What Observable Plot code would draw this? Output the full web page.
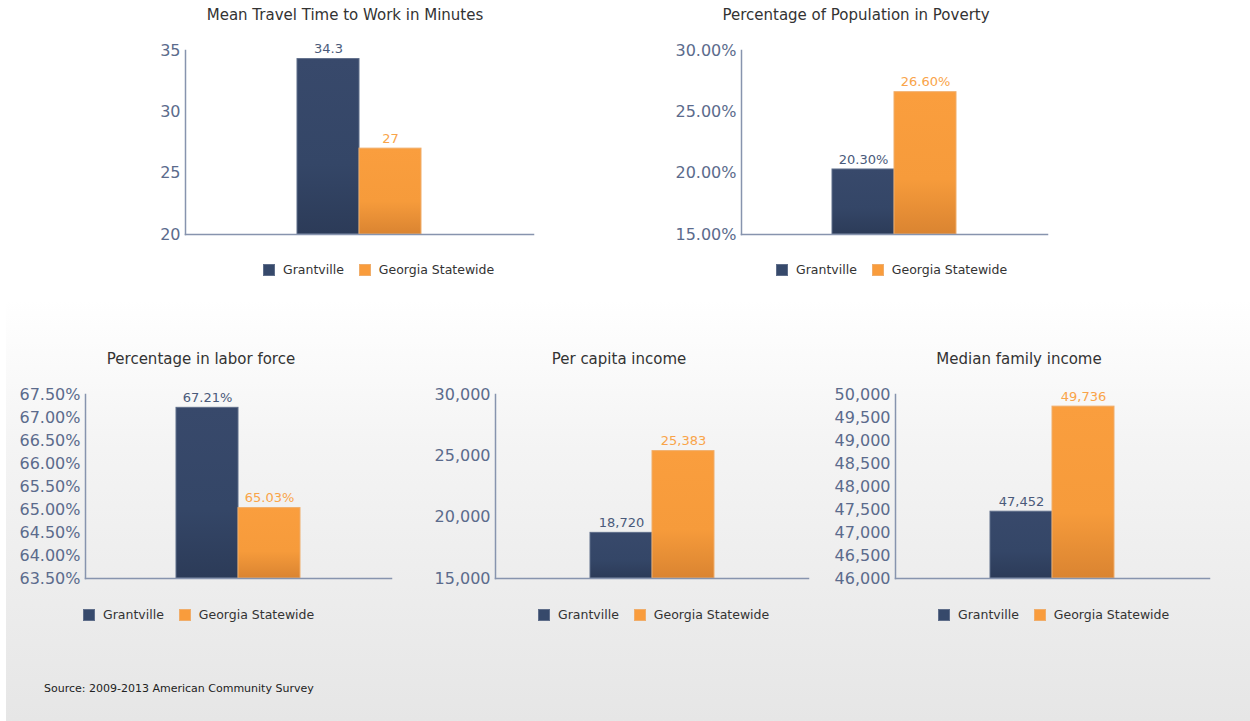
<!DOCTYPE html>
<html>
<head>
<meta charset="utf-8">
<script src="https://cdn.jsdelivr.net/npm/d3@7"></script>
<script src="https://cdn.jsdelivr.net/npm/@observablehq/plot@0.6"></script>
<style>
  html, body { margin: 0; padding: 0; background: #ffffff; }
  body { width: 1250px; height: 721px; position: relative; overflow: hidden; font-family: "DejaVu Sans", Verdana, sans-serif; }
  #panel { position: absolute; left: 6px; top: 300px; width: 1244px; height: 421px;
           background: linear-gradient(to bottom, #ffffff 0%, #f4f4f4 35%, #e6e6e6 100%); }
  .title { position: absolute; transform: translateX(-50%); white-space: nowrap; font-size: 15px; color: #333333; line-height: 18px; }
  .legend { position: absolute; display: flex; align-items: center; font-size: 12.5px; color: #333333; white-space: nowrap; line-height: 14px; }
  .sw { width: 10px; height: 10px; display: inline-block; margin-right: 8px; }
  .item { display: flex; align-items: center; margin-right: 15px; }
  .chart { position: absolute; }
  #source { position: absolute; left: 44px; top: 682px; font-size: 11px; color: #222; white-space: nowrap; }
</style>
</head>
<body>
<div id="panel"></div>
<svg width="0" height="0" style="position:absolute">
  <defs>
    <linearGradient id="gradNavy" x1="0" y1="0" x2="0" y2="1">
      <stop offset="0%" stop-color="#38496b"/>
      <stop offset="60%" stop-color="#344667"/>
      <stop offset="100%" stop-color="#2c3b58"/>
    </linearGradient>
    <linearGradient id="gradOrange" x1="0" y1="0" x2="0" y2="1">
      <stop offset="0%" stop-color="#fa9e3e"/>
      <stop offset="62%" stop-color="#f69b3b"/>
      <stop offset="100%" stop-color="#da8431"/>
    </linearGradient>
  </defs>
</svg>
<div id="source">Source: 2009-2013 American Community Survey</div>
<script>
// ---------- data ----------
const series = ["Grantville", "Georgia Statewide"];
const chartTitles = [
  "Mean Travel Time to Work in Minutes",
  "Percentage of Population in Poverty",
  "Percentage in labor force",
  "Per capita income",
  "Median family income"
];
const grantvilleValues = [34.3, 20.30, 67.21, 18720, 47452];
const georgiaValues = [27, 26.60, 65.03, 25383, 49736];
const yDomains = [[20, 35], [15, 30], [63.5, 67.5], [15000, 30000], [46000, 50000]];
const yTicks = [
  [20, 25, 30, 35],
  [15, 20, 25, 30],
  [63.5, 64, 64.5, 65, 65.5, 66, 66.5, 67, 67.5],
  [15000, 20000, 25000, 30000],
  [46000, 46500, 47000, 47500, 48000, 48500, 49000, 49500, 50000]
];
const formatKinds = ["plain", "percent", "percent", "comma", "comma"];

// ---------- layout / style ----------
const layout = [
  {left: 185, right: 533, top: 50, bottom: 234, titleX: 345, titleY: 6, legendX: 263, legendY: 263},
  {left: 741, right: 1047, top: 50, bottom: 234, titleX: 856, titleY: 6, legendX: 776, legendY: 263},
  {left: 85, right: 391, top: 394, bottom: 578, titleX: 201, titleY: 350, legendX: 83, legendY: 608},
  {left: 495, right: 808, top: 394, bottom: 578, titleX: 619, titleY: 350, legendX: 538, legendY: 608},
  {left: 895, right: 1209, top: 394, bottom: 578, titleX: 1019, titleY: 350, legendX: 938, legendY: 608}
];
const barWidth = 62.5;
const navy = "#36496b", orange = "#f99c3c";
const labelColors = {"Grantville": "#4a5a7a", "Georgia Statewide": "#f9a449"};
const axisColor = "#8794ae", tickColor = "#5b6b8c";

function fmt(kind) {
  if (kind === "percent") return d => d.toFixed(2) + "%";
  if (kind === "comma") return d3.format(",");
  return d => String(d);
}

const mL = 90, mR = 10, mT = 20, mB = 10;

chartTitles.forEach((title, i) => {
  const L = layout[i];
  const fw = L.right - L.left, fh = L.bottom - L.top;
  const rows = [
    {series: series[0], value: grantvilleValues[i]},
    {series: series[1], value: georgiaValues[i]}
  ];
  const f = fmt(formatKinds[i]);
  const ymin = yDomains[i][0];
  const pOuter = (fw / barWidth - 2) / 2;

  const plot = Plot.plot({
    width: mL + fw + mR,
    height: mT + fh + mB,
    marginLeft: mL, marginRight: mR, marginTop: mT, marginBottom: mB,
    style: {background: "transparent", color: tickColor, fontFamily: "DejaVu Sans, Verdana, sans-serif", overflow: "visible"},
    x: {domain: series, paddingInner: 0, paddingOuter: pOuter, axis: null},
    y: {domain: yDomains[i], label: null, axis: null},
    color: {type: "identity"},
    marks: [
      Plot.barY(rows.filter(d => d.series === series[0]), {x: "series", y1: ymin, y2: "value", fill: "url(#gradNavy)", stroke: "#5f6e8a", strokeWidth: 1}),
      Plot.barY(rows.filter(d => d.series === series[1]), {x: "series", y1: ymin, y2: "value", fill: "url(#gradOrange)", stroke: "#f0ad6a", strokeWidth: 1}),
      Plot.text(rows, {x: "series", y: "value", text: d => f(d.value), dy: -10, fill: d => labelColors[d.series], fontSize: 13}),
      Plot.axisY({ticks: yTicks[i], tickFormat: f, tickSize: 0, tickPadding: 5, fontSize: 16, label: null}),
      Plot.frame({anchor: "left", stroke: axisColor, strokeWidth: 1.5}),
      Plot.frame({anchor: "bottom", stroke: axisColor, strokeWidth: 1.5})
    ]
  });
  const holder = document.createElement("div");
  holder.className = "chart";
  holder.style.left = (L.left - mL) + "px";
  holder.style.top = (L.top - mT) + "px";
  holder.appendChild(plot);
  document.body.appendChild(holder);

  const t = document.createElement("div");
  t.className = "title";
  t.style.left = L.titleX + "px";
  t.style.top = L.titleY + "px";
  t.textContent = title;
  document.body.appendChild(t);

  const lg = document.createElement("div");
  lg.className = "legend";
  lg.style.left = L.legendX + "px";
  lg.style.top = L.legendY + "px";
  [[series[0], navy, "#5f6e8a"], [series[1], orange, "#f0ad6a"]].forEach(([name, c, b]) => {
    const it = document.createElement("span");
    it.className = "item";
    const sw = document.createElement("span");
    sw.className = "sw";
    sw.style.background = c;
    sw.style.border = "1px solid " + b;
    const tx = document.createElement("span");
    tx.textContent = name;
    it.appendChild(sw); it.appendChild(tx);
    lg.appendChild(it);
  });
  document.body.appendChild(lg);
});
</script>
</body>
</html>
